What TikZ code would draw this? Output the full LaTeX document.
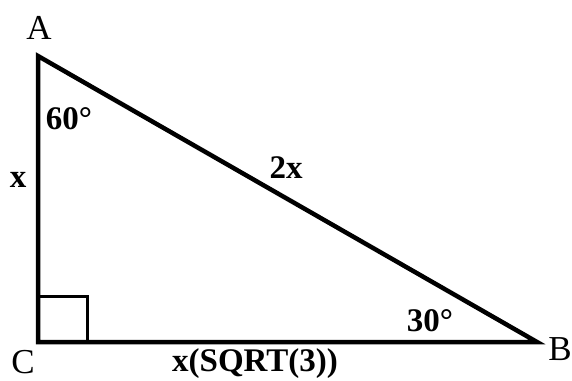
\documentclass[tikz,border=0pt]{standalone}
\usepackage{fontspec}
\setmainfont{Liberation Serif}
\begin{document}
\begin{tikzpicture}[x=1pt,y=-1pt,
  vlabel/.style={inner sep=0pt,font=\fontsize{35}{35}\selectfont},
  slabel/.style={inner sep=0pt,font=\fontsize{33}{33}\selectfont\bfseries},
  side/.style={line width=4.5pt,line join=miter}]
\useasboundingbox (0,0) rectangle (572,380);
\coordinate (A) at (38,56);
\coordinate (C) at (38,342);
\coordinate (B) at (537,342);
\draw[side] (A) -- (C) -- (B) -- cycle;
\coordinate (s1) at (38,296);
\coordinate (s2) at (87,296);
\coordinate (s3) at (87,342);
\draw[line width=3pt] (s1) -- (s2) -- (s3);
\node[vlabel] (lA) at (39,28) {A};
\node[vlabel] (lC) at (23,362) {C};
\node[vlabel] (lB) at (560,349) {B};
\node[slabel] (a60) at (69,119) {60°};
\node[slabel] (a30) at (430,321) {30°};
\node[slabel] (sx) at (18,180) {x};
\node[slabel] (s2x) at (286,168) {2x};
\node[slabel] (s3x) at (255,364) {x(SQRT(3))};
\end{tikzpicture}
\end{document}
